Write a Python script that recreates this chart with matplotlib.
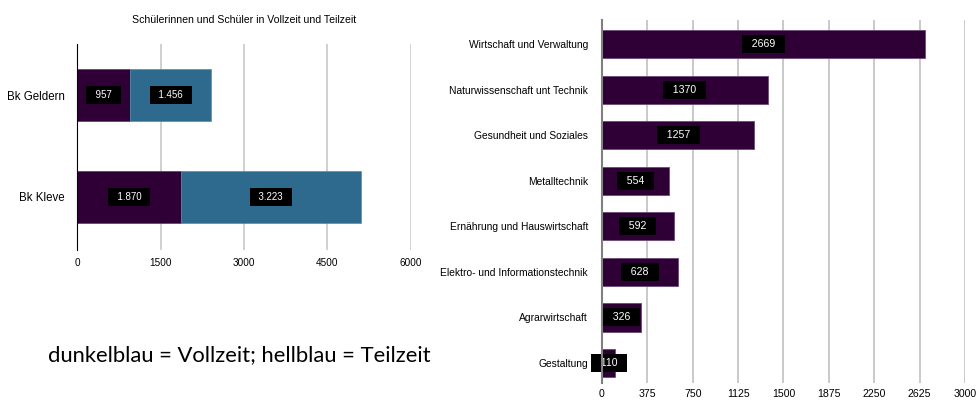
import matplotlib.pyplot as plt
import numpy as np

# Daten links: Schülerinnen und Schüler in Vollzeit / Teilzeit
schulen = ['Bk Geldern', 'Bk Kleve']
vollzeit = [957, 1870]
teilzeit = [1456, 3223]

# Daten rechts: Fachbereiche
bereiche = ['Wirtschaft und Verwaltung', 'Naturwissenschaft unt Technik',
            'Gesundheit und Soziales', 'Metalltechnik',
            'Ernährung und Hauswirtschaft', 'Elektro- und Informationstechnik',
            'Agrarwirtschaft', 'Gestaltung']
anzahl = [2669, 1370, 1257, 554, 592, 628, 326, 110]

dunkel = '#2f0035'
hell = '#2e6a8e'
plt.rcParams['font.family'] = ['Liberation Sans', 'DejaVu Sans']

def de(v):
    return '{:,}'.format(v).replace(',', '.')

def kasten(ax, x, y, s, fs):
    # schwarzer Kasten mit weißer Zahl, Leerzeichen für breiteren Rand
    ax.text(x, y, '  ' + s + '  ', color='white', fontsize=fs, ha='center', va='center',
            bbox=dict(boxstyle='square,pad=0.38', fc='black', ec='none'), zorder=4)

fig = plt.figure(figsize=(9.79, 4.03), dpi=100)

# linkes Diagramm
ax1 = fig.add_axes([0.0787, 0.3797, 0.3411, 0.511])
y1 = np.arange(len(schulen))
ax1.barh(y1, vollzeit, height=0.51, color=dunkel, edgecolor='#5a3a66', linewidth=0.5, zorder=3)
ax1.barh(y1, teilzeit, left=vollzeit, height=0.51, color=hell, edgecolor='#5a8aa8', linewidth=0.5, zorder=3)
for i in range(len(schulen)):
    kasten(ax1, vollzeit[i] / 2, y1[i], de(vollzeit[i]), 7)
    kasten(ax1, vollzeit[i] + teilzeit[i] / 2, y1[i], de(teilzeit[i]), 7)
ax1.set_xlim(0, 6000)
ax1.set_ylim(1.52, -0.5)
ax1.set_xticks([0, 1500, 3000, 4500, 6000])
ax1.set_yticks(y1)
ax1.set_yticklabels(schulen, fontsize=8.3)
ax1.tick_params(axis='x', labelsize=7.2, length=0, pad=6)
ax1.tick_params(axis='y', length=0, pad=9)
ax1.grid(axis='x', color='#c8c8c8', linewidth=1.2, zorder=0)
for s in ['top', 'right', 'bottom']:
    ax1.spines[s].set_visible(False)
ax1.spines['left'].set_color('black')
ax1.spines['left'].set_zorder(5)
ax1.set_title('Schülerinnen und Schüler in Vollzeit und Teilzeit', fontsize=7.6, pad=15)

# rechtes Diagramm
ax2 = fig.add_axes([0.6149, 0.0496, 0.3708, 0.9007])
y2 = np.arange(len(bereiche))
ax2.barh(y2, anzahl, height=0.62, color=dunkel, edgecolor='#6a4a78', linewidth=0.6, zorder=3)
for i in range(len(bereiche)):
    kasten(ax2, anzahl[i] / 2, y2[i], str(anzahl[i]), 7.6)
ax2.set_xlim(0, 3000)
ax2.set_ylim(7.44, -0.53)
ax2.set_xticks([0, 375, 750, 1125, 1500, 1875, 2250, 2625, 3000])
ax2.set_yticks(y2)
ax2.set_yticklabels(bereiche, fontsize=7.4)
ax2.tick_params(axis='x', labelsize=7.6, length=0, pad=4)
ax2.tick_params(axis='y', length=0, pad=10)
ax2.grid(axis='x', color='#c0c0c0', linewidth=1.2, zorder=0)
for s in ['top', 'right', 'bottom']:
    ax2.spines[s].set_visible(False)
ax2.spines['left'].set_color('#808080')
ax2.spines['left'].set_linewidth(1.5)
ax2.spines['left'].set_zorder(5)

fig.text(0.049, 0.118, 'dunkelblau = Vollzeit; hellblau = Teilzeit', fontsize=15.8,
         family=['Lato', 'DejaVu Sans'], ha='left', va='center')

fig.savefig('out.png', dpi=100)
